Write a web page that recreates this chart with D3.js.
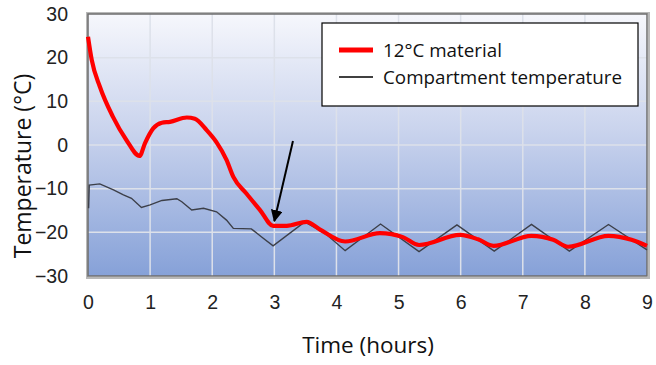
<!DOCTYPE html>
<html>
<head>
<meta charset="utf-8">
<script src="https://cdn.jsdelivr.net/npm/d3@7"></script>
<style>
  body { margin: 0; background: #fff; }
  svg { display: block; }
</style>
</head>
<body>
<div id="chart"></div>
<script>
// data
const timeRed = [0, 0.06, 0.19, 0.4, 0.62, 0.83, 0.92, 1.05, 1.19, 1.32, 1.59, 1.72, 1.91, 2.07, 2.23, 2.34, 2.55, 2.77, 2.98, 3.2, 3.52, 3.73, 4.14, 4.70, 5.07, 5.33, 5.99, 6.28, 6.53, 7.14, 7.49, 7.73, 8.38, 8.75, 9.0];
const tempRed = [24.8, 19.5, 13.4, 6.5, 1.1, -2.5, 0.5, 3.8, 5.1, 5.3, 6.3, 6.0, 3.4, 0.6, -3.4, -7.3, -11.1, -14.9, -18.5, -18.5, -17.6, -19.3, -22.1, -20.2, -21.1, -22.9, -20.6, -21.6, -23.1, -20.8, -21.7, -23.3, -20.8, -21.7, -23.1];

const timeBlack = [0.01, 0.02, 0.19, 0.41, 0.57, 0.7, 0.86, 1.0, 1.19, 1.43, 1.51, 1.67, 1.86, 2.07, 2.23, 2.34, 2.63, 2.79, 2.98, 3.49, 3.84, 4.14, 4.71, 5.33, 5.94, 6.54, 7.14, 7.75, 8.38, 9.0];
const tempBlack = [-14.5, -9.2, -8.9, -10.3, -11.4, -12.2, -14.3, -13.7, -12.7, -12.3, -13, -14.9, -14.5, -15.3, -17.2, -19.1, -19.2, -21, -23.1, -17.6, -20.5, -24.2, -18.1, -24.4, -18.3, -24.3, -18.2, -24.3, -18.2, -24];

const xTicks = [0, 1, 2, 3, 4, 5, 6, 7, 8, 9];
const yTicks = [-30, -20, -10, 0, 10, 20, 30];
const seriesNames = ["12°C material", "Compartment temperature"];
// arrow annotation [from, to] in (hours, °C)
const arrowPts = [[3.3, 0.9], [3.0, -17.4]];

const width = 656, height = 365;
const margin = {top: 14, right: 9, bottom: 89, left: 88};
const w = width - margin.left - margin.right;
const h = height - margin.top - margin.bottom;

const x = d3.scaleLinear().domain([0, 9]).range([0, w]);
const y = d3.scaleLinear().domain([-30, 30]).range([h, 0]);

const svg = d3.select("#chart").append("svg")
    .attr("width", width)
    .attr("height", height);

const defs = svg.append("defs");
const grad = defs.append("linearGradient")
    .attr("id", "bg").attr("x1", 0).attr("y1", 0).attr("x2", 0).attr("y2", 1);
grad.append("stop").attr("offset", "0%").attr("stop-color", "#f6f7fc");
grad.append("stop").attr("offset", "45%").attr("stop-color", "#c9d3ed");
grad.append("stop").attr("offset", "100%").attr("stop-color", "#86a1d8");

defs.append("marker")
    .attr("id", "head")
    .attr("viewBox", "0 0 10 10")
    .attr("refX", 9).attr("refY", 5)
    .attr("markerWidth", 6).attr("markerHeight", 6)
    .attr("markerUnits", "strokeWidth")
    .attr("orient", "auto")
  .append("path")
    .attr("d", "M0,0 L10,5 L0,10 z")
    .attr("fill", "#000");

const g = svg.append("g").attr("transform", `translate(${margin.left},${margin.top})`);

// plot background with soft frame
g.append("rect")
    .attr("x", -1).attr("y", -1)
    .attr("width", w + 3).attr("height", h + 3)
    .attr("fill", "none")
    .attr("stroke", "#b8b8b8").attr("stroke-width", 2);
g.append("rect")
    .attr("width", w).attr("height", h)
    .attr("fill", "url(#bg)");

// grid
g.append("g").selectAll("line").data(xTicks.slice(1, -1)).join("line")
    .attr("x1", d => x(d)).attr("x2", d => x(d))
    .attr("y1", 0).attr("y2", h)
    .attr("stroke", "#dde1ea").attr("stroke-width", 1.5);
g.append("g").selectAll("line").data(yTicks.slice(1, -1)).join("line")
    .attr("x1", 0).attr("x2", w)
    .attr("y1", d => y(d)).attr("y2", d => y(d))
    .attr("stroke", "#dde1ea").attr("stroke-width", 1.5);

// frame
g.append("rect")
    .attr("width", w).attr("height", h)
    .attr("fill", "none")
    .attr("stroke", "#6e6e6e").attr("stroke-width", 1.5);

// axes
const xAxis = g.append("g")
    .attr("transform", `translate(0,${h})`)
    .call(d3.axisBottom(x).tickValues(xTicks).tickSize(0).tickPadding(19));
const yAxis = g.append("g")
    .call(d3.axisLeft(y).tickValues(yTicks).tickSize(0).tickPadding(20));
[xAxis, yAxis].forEach(a => {
    a.select(".domain").remove();
    a.selectAll("text")
        .attr("font-family", "'Liberation Sans', Arial, sans-serif")
        .attr("font-size", 19.5)
        .attr("fill", "#222");
});

// series
const black = timeBlack.map((t, i) => [t, tempBlack[i]]);
const red = timeRed.map((t, i) => [t, tempRed[i]]);

g.append("path")
    .datum(black)
    .attr("fill", "none")
    .attr("stroke", "#3c3f48")
    .attr("stroke-width", 1.4)
    .attr("d", d3.line().x(d => x(d[0])).y(d => y(d[1])));

g.append("path")
    .datum(red)
    .attr("fill", "none")
    .attr("stroke", "#ff0000")
    .attr("stroke-width", 4.2)
    .attr("stroke-linejoin", "round")
    .attr("d", d3.line().curve(d3.curveMonotoneX).x(d => x(d[0])).y(d => y(d[1])));

// arrow
g.append("line")
    .attr("x1", x(arrowPts[0][0])).attr("y1", y(arrowPts[0][1]))
    .attr("x2", x(arrowPts[1][0])).attr("y2", y(arrowPts[1][1]))
    .attr("stroke", "#000").attr("stroke-width", 2)
    .attr("marker-end", "url(#head)");

// legend
const lg = svg.append("g").attr("transform", "translate(322,23)");
lg.append("rect")
    .attr("width", 316).attr("height", 83)
    .attr("fill", "#fff").attr("stroke", "#000").attr("stroke-width", 1.2);
const items = [
    {name: seriesNames[0], color: "#ff0000", sw: 5, yy: 27},
    {name: seriesNames[1], color: "#000", sw: 1.5, yy: 54}
];
items.forEach(it => {
    lg.append("line")
        .attr("x1", 17).attr("x2", 51)
        .attr("y1", it.yy).attr("y2", it.yy)
        .attr("stroke", it.color).attr("stroke-width", it.sw);
    lg.append("text")
        .attr("x", 61).attr("y", it.yy)
        .attr("dy", "0.35em")
        .attr("font-family", "'Open Sans', sans-serif")
        .attr("font-size", 18.8)
        .attr("fill", "#111")
        .text(it.name);
});

// axis titles
svg.append("text")
    .attr("x", 368)
    .attr("y", 353)
    .attr("text-anchor", "middle")
    .attr("font-family", "'Open Sans', sans-serif")
    .attr("font-size", 22.5)
    .attr("fill", "#111")
    .text("Time (hours)");

svg.append("text")
    .attr("transform", "translate(31,166) rotate(-90)")
    .attr("text-anchor", "middle")
    .attr("font-family", "'Open Sans', sans-serif")
    .attr("font-size", 23)
    .attr("fill", "#111")
    .text("Temperature (°C)");
</script>
</body>
</html>
